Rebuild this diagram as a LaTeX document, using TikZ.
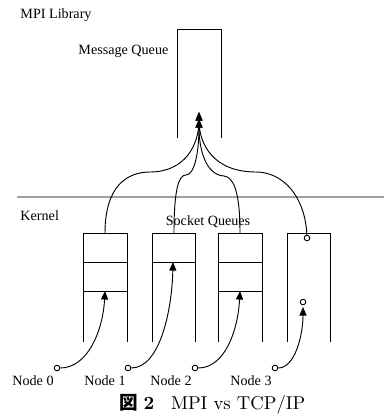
\documentclass[tikz,border=0pt]{standalone}
\usepackage{fontspec}
\usepackage{tikz}
\usetikzlibrary{positioning,arrows.meta}
\newfontfamily\timesf{Liberation Serif}
\newfontfamily\cjk{Noto Sans CJK JP}

\tikzset{
  lbl/.style={font=\timesf\fontsize{7.6}{9}\selectfont, inner sep=0pt},
  dot/.style={circle, draw, fill=white, inner sep=0pt, minimum size=3pt},
  msg/.style={-{Triangle[length=4.6pt,width=3.8pt]}},
}

\begin{document}
\begin{tikzpicture}[x=0.5376pt, y=-0.5376pt, line width=0.5pt]
  \useasboundingbox (0,0) rectangle (384,415);
  % layer labels
  \node[lbl, anchor=west] (lib) at (20,15) {MPI Library};
  \node[lbl, anchor=west] (mqlbl) at (78,51) {Message Queue};
  \node[lbl, anchor=west] (kern) at (20,216) {Kernel};
  \node[lbl] (sqlbl) at (208,222) {Socket Queues};
  \draw[gray!75, line width=1.1pt] (17,197) -- (384,197);

  % message queue
  \draw (177,138) -- (177,29) -- (221,29) -- (221,138);
  \coordinate (mqa) at (199,112);
  \coordinate (mqb) at (199,119);

  % socket queues
  \draw (83,342) -- (83,233) -- (127,233) -- (127,342);
  \draw (83,262) -- (127,262) (83,291) -- (127,291);
  \draw (152,342) -- (152,233) -- (195,233) -- (195,342);
  \draw (152,262) -- (195,262);
  \draw (218,342) -- (218,233) -- (262,233) -- (262,342);
  \draw (218,262) -- (262,262) (218,291) -- (262,291);
  \draw (287,342) -- (287,233) -- (330,233) -- (330,342);
  \coordinate (q0) at (105,233);
  \coordinate (q1) at (174,233);
  \coordinate (q2) at (240,233);
  \node[dot] (q3) at (307,238) {};
  \node[dot] (q3in) at (303,302) {};

  % sockets -> message queue
  \draw[msg] (q0) .. controls (105,185) and (128,172) .. (150,172)
    .. controls (185,172) and (199,145) .. (mqa);
  \draw[msg] (q1) .. controls (174,188) and (179,175) .. (186,175)
    .. controls (195,175) and (199,150) .. (mqb);
  \draw[msg] (q2) .. controls (240,190) and (233,177) .. (224,176)
    .. controls (206,175) and (199,150) .. (mqb);
  \draw[msg] (q3) .. controls (305,195) and (282,172) .. (256,172)
    .. controls (214,172) and (199,145) .. (mqa);

  % sending nodes
  \node[lbl] (n0) at (33,381) {Node 0};
  \node[lbl] (n1) at (105,381) {Node 1};
  \node[lbl] (n2) at (171,381) {Node 2};
  \node[lbl] (n3) at (251,381) {Node 3};
  \node[dot] (s0) at (57,368) {};
  \node[dot] (s1) at (128,368) {};
  \node[dot] (s2) at (195,368) {};
  \node[dot] (s3) at (275,368) {};
  \coordinate (t0) at (105,291);
  \coordinate (t1) at (173,262);
  \coordinate (t2) at (240,291);
  \coordinate (t3) at (303,307);
  \draw[msg] (s0) .. controls (88,368) and (103,330) .. (t0);
  \draw[msg] (s1) .. controls (160,368) and (172,310) .. (t1);
  \draw[msg] (s2) .. controls (225,368) and (238,330) .. (t2);
  \draw[msg] (s3) .. controls (295,368) and (303,335) .. (t3);

  % caption
  \node[inner sep=0pt] (cap) at (212.5,404)
    {{\cjk\bfseries 図}\;\textbf{2}\hspace{0.9em}MPI vs TCP/IP};
\end{tikzpicture}
\end{document}
